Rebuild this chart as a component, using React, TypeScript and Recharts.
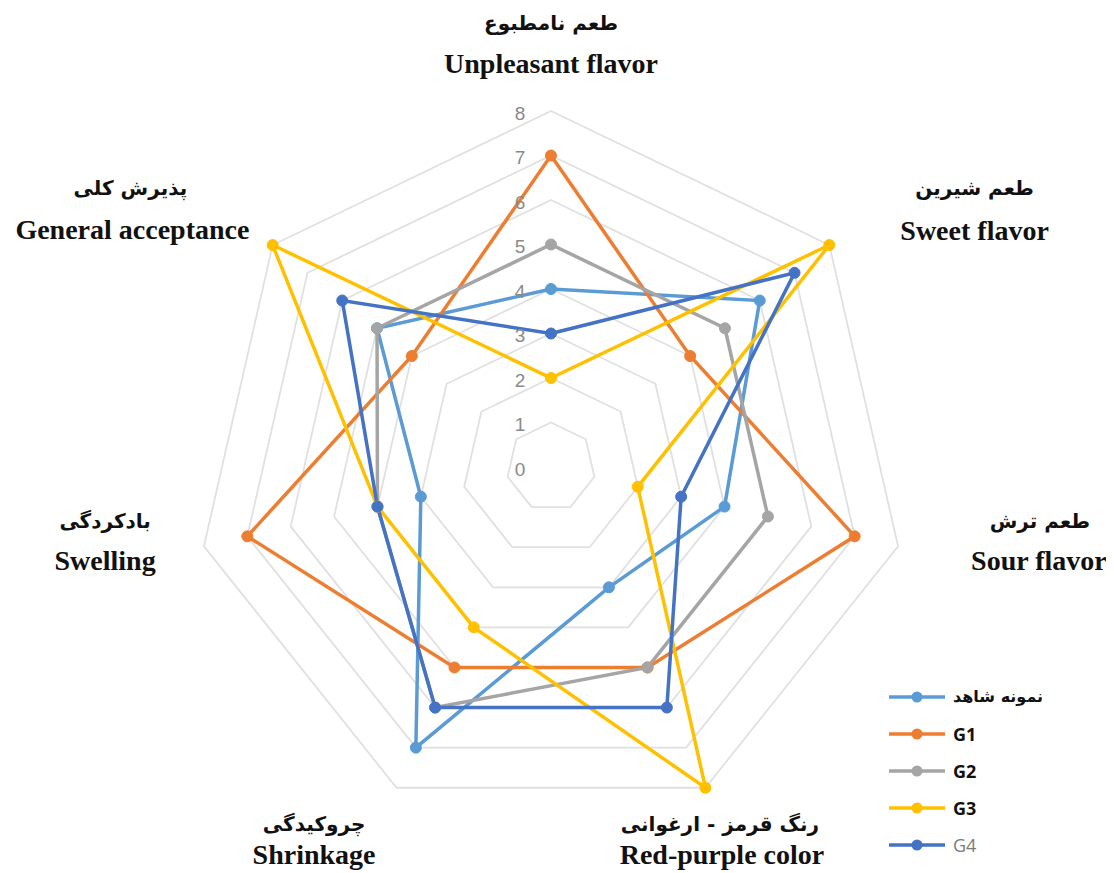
import React from 'react';
import { RadarChart, Radar, PolarGrid, PolarAngleAxis, PolarRadiusAxis, Legend } from 'recharts';

const axesFa = ['طعم نامطبوع', 'طعم شیرین', 'طعم ترش', 'رنگ قرمز  - ارغوانی', 'چروکیدگی', 'بادکردگی', 'پذیرش کلی'];
const axesEn = ['Unpleasant flavor', 'Sweet flavor', 'Sour flavor', 'Red-purple color', 'Shrinkage', 'Swelling', 'General acceptance'];

const control = [4, 6, 4, 3, 7, 3, 5];
const g1 = [7, 4, 7, 5, 5, 7, 4];
const g2 = [5, 5, 5, 5, 6, 4, 5];
const g3 = [2, 8, 2, 8, 4, 4, 8];
const g4 = [3, 7, 3, 6, 6, 4, 6];

const seriesNames = ['نمونه شاهد', 'G1', 'G2', 'G3', 'G4'];
const seriesKeys = ['control', 'g1', 'g2', 'g3', 'g4'];
const seriesColors = ['#5B9BD5', '#ED7D31', '#A5A5A5', '#FFC000', '#4472C4'];
const radiusTicks = [0, 1, 2, 3, 4, 5, 6, 7, 8];

const data = axesEn.map((en, i) => ({
  en,
  fa: axesFa[i],
  control: control[i],
  g1: g1[i],
  g2: g2[i],
  g3: g3[i],
  g4: g4[i],
}));

// label offsets relative to the angle-axis tick anchor: [dxFa, dyFa, dxEn, dyEn]
const labelOffsets = [
  [0, -80, 0, -40],
  [139, -52, 139, -10],
  [134, -27, 133, 13],
  [11, 29, 13, 60],
  [-79, 29, -79, 60],
  [-91, -27, -91, 13],
  [-136, -52, -134, -11],
];

const AngleTick = (props: any) => {
  const { x, y, payload } = props;
  const i = axesEn.indexOf(payload.value);
  const o = labelOffsets[i] || [0, 0, 0, 0];
  return (
    <g>
      <text x={x + o[0]} y={y + o[1]} textAnchor="middle" dominantBaseline="central"
        fontFamily="'DejaVu Sans', sans-serif" fontWeight="bold" fontSize={20} fill="#111">
        {axesFa[i]}
      </text>
      <text x={x + o[2]} y={y + o[3]} textAnchor="middle" dominantBaseline="central"
        fontFamily="'Liberation Serif', 'Times New Roman', serif" fontWeight="bold" fontSize={28} fill="#111">
        {axesEn[i]}
      </text>
    </g>
  );
};

const RadiusTick = (props: any) => {
  const { x, y, payload } = props;
  return (
    <text x={x - 31} y={y + 2} textAnchor="middle" dominantBaseline="central"
      fontFamily="'Liberation Sans', Arial, sans-serif" fontSize={19} fill="#8a8a8a">
      {payload.value}
    </text>
  );
};

const makeDot = (color: string) => (props: any) => {
  const { cx, cy, index } = props;
  if (cx == null || cy == null) return <g key={index} />;
  return <circle key={index} cx={cx} cy={cy} r={5.5} fill={color} stroke={color} strokeWidth={1} />;
};

const LegendContent = () => (
  <div style={{ display: 'flex', flexDirection: 'column' }}>
    {seriesNames.map((n, i) => (
      <div key={n} style={{ display: 'flex', alignItems: 'center', height: 37 }}>
        <svg width={60} height={14} style={{ marginRight: 6 }}>
          <line x1={2} y1={7} x2={58} y2={7} stroke={seriesColors[i]} strokeWidth={3.5} />
          <circle cx={30} cy={7} r={5.5} fill={seriesColors[i]} />
        </svg>
        <span style={{
          fontFamily: i === 0 ? "'DejaVu Sans', sans-serif" : "'Open Sans', 'Liberation Sans', sans-serif",
          fontWeight: i === 4 ? 'normal' : 'bold',
          fontSize: i === 0 ? 16 : 18,
          color: i === 4 ? '#7a7a7a' : '#111',
          direction: i === 0 ? 'rtl' : 'ltr',
        }}>{n}</span>
      </div>
    ))}
  </div>
);

export default function App() {
  return (
    <div style={{ width: 1106, height: 865, background: '#fff' }}>
      <style>{'html,body{overflow:hidden;}'}</style>
      <RadarChart width={1106} height={865} data={data} cx={543} cy={459} outerRadius={356}
        margin={{ top: 0, right: 0, bottom: 0, left: 0 }}>
        <PolarGrid gridType="polygon" radialLines={false} stroke="#e0e0e0" strokeWidth={1.8} />
        <PolarAngleAxis dataKey="en" tick={<AngleTick />} axisLine={false} tickLine={false} />
        <PolarRadiusAxis angle={90} domain={[0, 8]} ticks={radiusTicks as any} tickCount={9}
          axisLine={false} tickLine={false} tick={<RadiusTick />} />
        {seriesKeys.map((k, i) => (
          <Radar key={k} name={seriesNames[i]} dataKey={k} stroke={seriesColors[i]} strokeWidth={3.5}
            fill="none" fillOpacity={0} isAnimationActive={false}
            dot={makeDot(seriesColors[i])} />
        ))}
        <Legend content={<LegendContent />} wrapperStyle={{ position: 'absolute', left: 879, top: 670, width: 220 }} />
      </RadarChart>
    </div>
  );
}
